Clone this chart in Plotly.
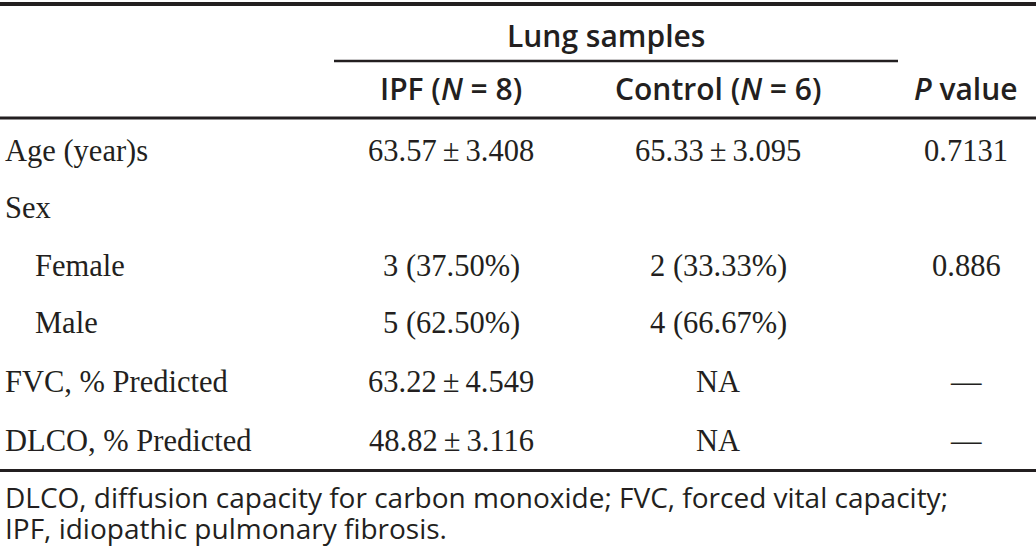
import plotly.graph_objects as go

# ---- data ----
group_title = "Lung samples"
col_headers = ["IPF (<i>N</i> = 8)", "Control (<i>N</i> = 6)", "<i>P</i> value"]
row_labels = ["Age (year)s", "Sex", "Female", "Male", "FVC, % Predicted", "DLCO, % Predicted"]
row_indent = [False, False, True, True, False, False]
ipf_values = ["63.57 ± 3.408", "", "3 (37.50%)", "5 (62.50%)", "63.22 ± 4.549", "48.82 ± 3.116"]
control_values = ["65.33 ± 3.095", "", "2 (33.33%)", "4 (66.67%)", "NA", "NA"]
p_values = ["0.7131", "", "0.886", "", "—", "—"]
footnote_lines = ["DLCO, diffusion capacity for carbon monoxide; FVC, forced vital capacity;",
                  "IPF, idiopathic pulmonary fibrosis."]

W, H = 1036, 556
col_x = [451, 718, 966]
row_y = [151, 208, 266, 323, 382, 441]
serif = "Liberation Serif"
sans = "Open Sans"
ink = "#231f20"

fig = go.Figure()
fig.add_trace(go.Scatter(x=[0, W], y=[0, H], mode="markers", marker=dict(opacity=0), hoverinfo="skip", showlegend=False))

ann = []
def txt(x, y, s, font, size, anchor="center", weight="normal", yanchor="middle"):
    ann.append(dict(x=x, y=y, xref="x", yref="y", text=s, showarrow=False,
                    xanchor=anchor, yanchor=yanchor, align="left",
                    font=dict(family=font, size=size, color=ink, weight=weight)))

txt(606, 35, group_title, sans, 30, weight=600)
for cx, h in zip(col_x, col_headers):
    txt(cx, 88, h, sans, 30, weight=600)

for i, lab in enumerate(row_labels):
    txt(33 if row_indent[i] else 3, row_y[i], lab, serif, 30.5, anchor="left")
    txt(col_x[0], row_y[i], ipf_values[i].replace(" ± ", "\u2009±\u2009"), serif, 30.5)
    txt(col_x[1], row_y[i], control_values[i].replace(" ± ", "\u2009±\u2009"), serif, 30.5)
    txt(col_x[2], row_y[i], p_values[i], serif, 30.5)

# footnote: one text block, line pitch ~30px, glyphs at 28px
foot = "<br>".join(f'<span style="font-size:28px">{ln}</span>' for ln in footnote_lines)
txt(3, 512, foot, sans, 23.5, anchor="left")

shapes = [
    dict(type="line", xref="x", yref="y", x0=0, x1=W, y0=4, y1=4, line=dict(color=ink, width=4)),
    dict(type="line", xref="x", yref="y", x0=334, x1=898, y0=61, y1=61, line=dict(color=ink, width=2.5)),
    dict(type="line", xref="x", yref="y", x0=0, x1=W, y0=118, y1=118, line=dict(color=ink, width=3)),
    dict(type="line", xref="x", yref="y", x0=0, x1=W, y0=470.5, y1=470.5, line=dict(color=ink, width=3)),
]

fig.update_layout(
    width=W, height=H, margin=dict(l=0, r=0, t=0, b=0),
    paper_bgcolor="white", plot_bgcolor="white",
    xaxis=dict(range=[0, W], visible=False, fixedrange=True),
    yaxis=dict(range=[H, 0], visible=False, fixedrange=True),
    annotations=ann, shapes=shapes, showlegend=False,
)
fig.write_html("out.html", config={"displayModeBar": False},
               post_script="document.body.style.margin='0';document.body.style.overflow='hidden';")
